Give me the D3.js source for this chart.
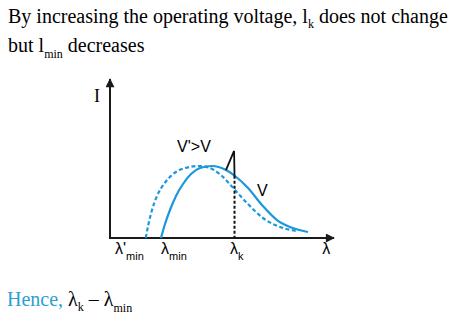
<!DOCTYPE html>
<html>
<head>
<meta charset="utf-8">
<script src="https://cdn.jsdelivr.net/npm/d3@7"></script>
<style>
  body { margin: 0; background: #fff; }
</style>
</head>
<body>
<svg id="chart" width="470" height="328"></svg>
<script>
// Curve at operating voltage V (solid)
const lambdaV = [23.18, 25.0, 27.27, 30.0, 33.18, 36.82, 40.91, 46.36, 52.73, 56.82, 62.73, 69.09, 75.91, 81.82, 90.0];
const intensityV = [0, 8.86, 17.72, 26.58, 34.18, 40.51, 44.30, 45.57, 43.04, 39.24, 31.65, 20.89, 11.39, 6.96, 3.80];

// Curve at higher voltage V' (dashed)
const lambdaV2 = [16.23, 17.5, 19.09, 21.36, 24.55, 28.18, 32.73, 40.91, 46.36, 50.91, 56.82, 62.27, 69.55, 77.27, 85.0];
const intensityV2 = [0, 8.86, 17.72, 26.58, 34.18, 39.87, 43.67, 45.57, 43.67, 39.24, 30.38, 22.15, 12.66, 6.96, 4.43];

// Characteristic K line
const lambdaK = 56.6;
const peakLambda = [52.7, 56.4, 56.6];
const peakIntensity = [43.0, 55.1, 39.4];

// Labels under the x axis
const axisLabels = [
  { at: 2.3, main: "λ'", sub: "min" },
  { at: 23.2, main: "λ", sub: "min" },
  { at: 54.5, main: "λ", sub: "k" },
  { at: 96.5, main: "λ", sub: "" }
];

const blue = "#1b98dc";

const svg = d3.select("#chart");

const x = d3.scaleLinear().domain([0, 100]).range([110, 330]);
const y = d3.scaleLinear().domain([0, 100]).range([238, 80]);

// arrow heads
const defs = svg.append("defs");
defs.append("marker")
    .attr("id", "arrow")
    .attr("viewBox", "0 0 10 10")
    .attr("refX", 9).attr("refY", 5)
    .attr("markerWidth", 10).attr("markerHeight", 9)
    .attr("markerUnits", "userSpaceOnUse")
    .attr("orient", "auto")
    .append("path")
    .attr("d", "M0,0 L10,5 L0,10 Z")
    .attr("fill", "#1a1a1a");

// Title
const serif = "'Liberation Serif', 'Times New Roman', serif";
const title = svg.append("g")
    .attr("font-family", serif)
    .attr("font-size", "20px")
    .attr("fill", "#000");

const line1 = title.append("text").attr("x", 8).attr("y", 23);
line1.append("tspan").text("By increasing the operating voltage, l");
line1.append("tspan").attr("font-size", "12px").attr("dy", 5).text("k");
line1.append("tspan").attr("dy", -5).text(" does not change");

const line2 = title.append("text").attr("x", 8).attr("y", 52);
line2.append("tspan").text("but l");
line2.append("tspan").attr("font-size", "12px").attr("dy", 6).text("min");
line2.append("tspan").attr("dy", -6).text(" decreases");

// Axes
svg.append("line")
    .attr("x1", x(0)).attr("y1", y(0))
    .attr("x2", x(0)).attr("y2", y(100.6))
    .attr("stroke", "#1a1a1a").attr("stroke-width", 2)
    .attr("marker-end", "url(#arrow)");
svg.append("line")
    .attr("x1", x(0) - 1).attr("y1", y(0))
    .attr("x2", x(101.8)).attr("y2", y(0))
    .attr("stroke", "#1a1a1a").attr("stroke-width", 2)
    .attr("marker-end", "url(#arrow)");

svg.append("text")
    .attr("x", x(0) - 16).attr("y", y(86))
    .attr("font-family", serif)
    .attr("font-size", "18px")
    .text("I");

// Curves
const line = d3.line()
    .x(d => x(d[0]))
    .y(d => y(d[1]))
    .curve(d3.curveMonotoneX);

svg.append("path")
    .datum(d3.zip(lambdaV2, intensityV2))
    .attr("d", line)
    .attr("fill", "none")
    .attr("stroke", blue)
    .attr("stroke-width", 2.2)
    .attr("stroke-dasharray", "4,2.5");

svg.append("path")
    .datum(d3.zip(lambdaV, intensityV))
    .attr("d", line)
    .attr("fill", "none")
    .attr("stroke", blue)
    .attr("stroke-width", 2.2);

// K line: dashed part down to the axis, solid spike above the curve
svg.append("line")
    .attr("x1", x(lambdaK)).attr("y1", y(peakIntensity[2]))
    .attr("x2", x(lambdaK)).attr("y2", y(0))
    .attr("stroke", "#111").attr("stroke-width", 2)
    .attr("stroke-dasharray", "3,2");

svg.append("path")
    .datum(d3.zip(peakLambda, peakIntensity))
    .attr("d", d3.line().x(d => x(d[0])).y(d => y(d[1])))
    .attr("fill", "none")
    .attr("stroke", "#111")
    .attr("stroke-width", 1.8);

// Curve labels
const sans = "'Liberation Sans', Arial, sans-serif";
svg.append("text")
    .attr("x", x(30.5)).attr("y", y(54.5))
    .attr("font-family", sans).attr("font-size", "16px")
    .text("V'>V");
svg.append("text")
    .attr("x", x(66.8)).attr("y", y(26.8))
    .attr("font-family", sans).attr("font-size", "16px")
    .text("V");

// Axis labels
const labels = svg.append("g")
    .attr("font-family", sans)
    .attr("fill", "#000");
axisLabels.forEach(l => {
  const t = labels.append("text")
      .attr("x", x(l.at)).attr("y", y(0) + 16)
      .attr("font-size", "16px");
  t.append("tspan").text(l.main);
  if (l.sub) {
    t.append("tspan").attr("font-size", "11px").attr("dy", 6).text(l.sub);
  }
});

// Conclusion
const hence = svg.append("text")
    .attr("x", 7).attr("y", 306)
    .attr("font-family", serif)
    .attr("font-size", "20px");
hence.append("tspan").attr("fill", "#2aa0d0").text("Hence, ");
hence.append("tspan").text("λ");
hence.append("tspan").attr("font-size", "12px").attr("dy", 5).text("k");
hence.append("tspan").attr("dy", -5).text(" – λ");
hence.append("tspan").attr("font-size", "12px").attr("dy", 6).text("min");
</script>
</body>
</html>
